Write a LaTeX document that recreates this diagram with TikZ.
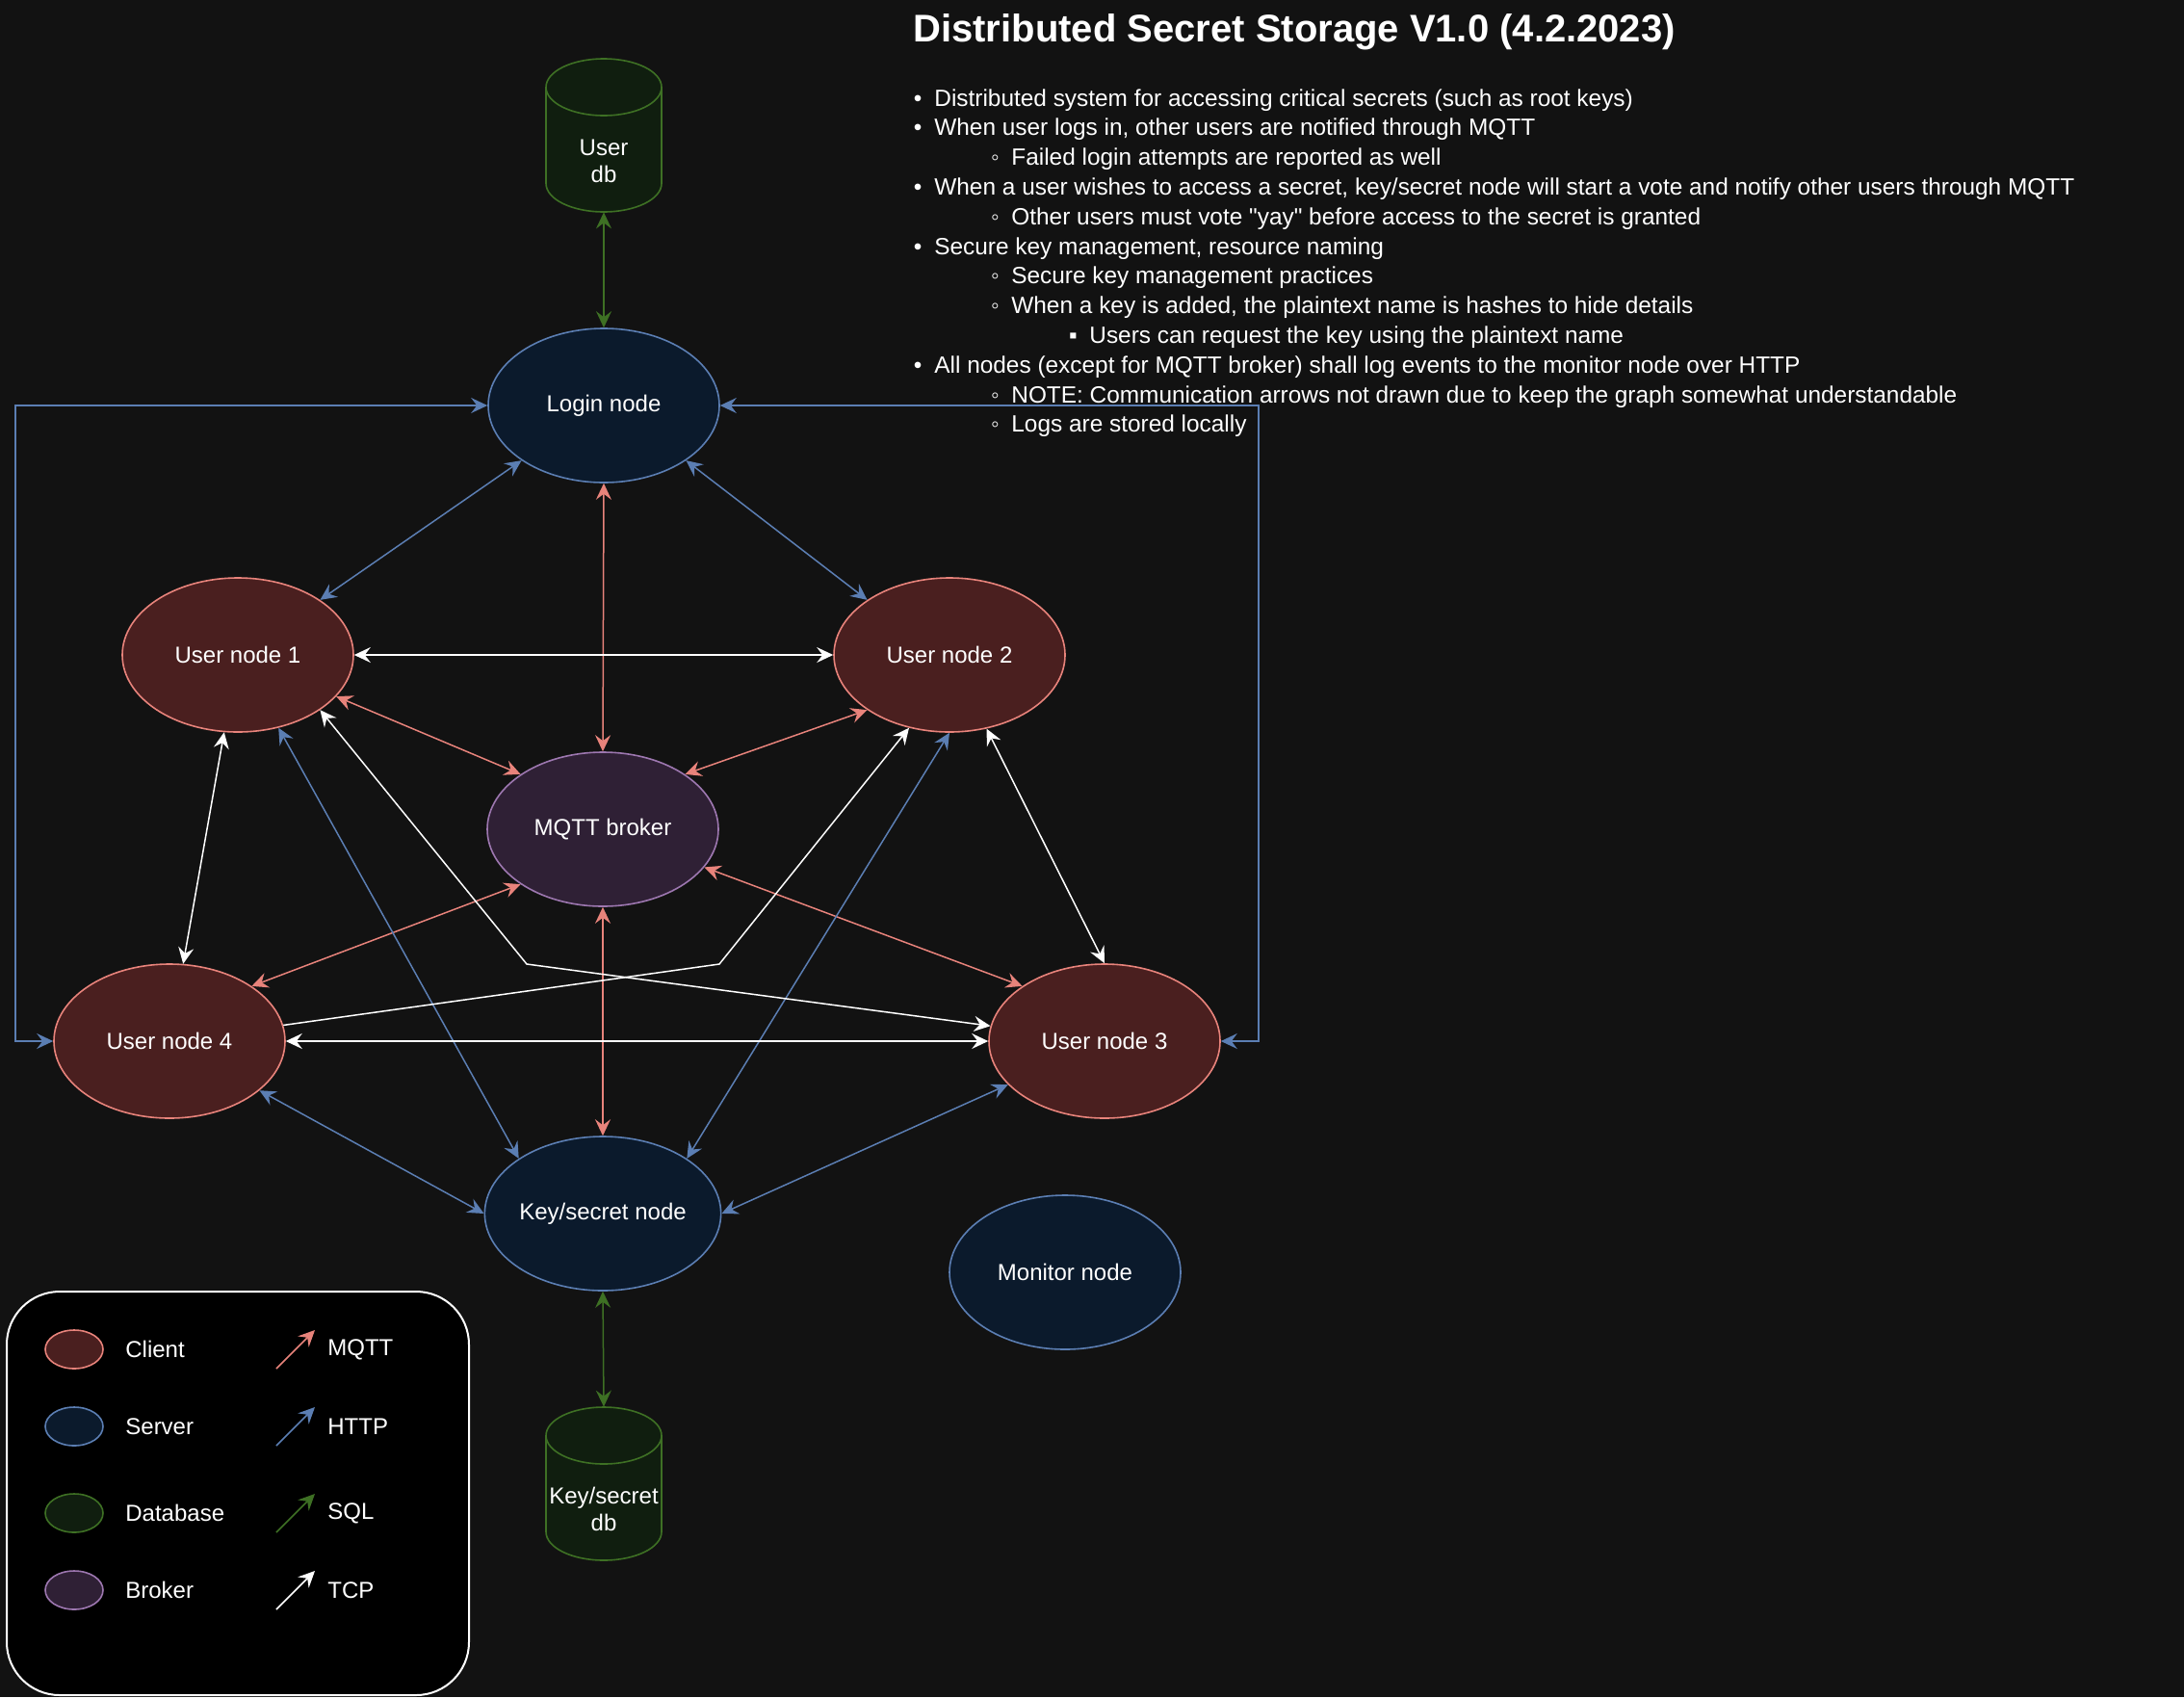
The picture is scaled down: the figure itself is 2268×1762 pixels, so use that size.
\documentclass[tikz,border=0pt]{standalone}
\usepackage{fontspec}
\setmainfont{Liberation Sans}
\usetikzlibrary{arrows.meta,shapes.geometric}

\definecolor{pagebg}{HTML}{121212}
\definecolor{clientfill}{HTML}{4A1F1F}
\definecolor{clientline}{HTML}{E8837B}
\definecolor{serverfill}{HTML}{0B1A2C}
\definecolor{serverline}{HTML}{5B7EB3}
\definecolor{brokerfill}{HTML}{2F2035}
\definecolor{brokerline}{HTML}{9D77B0}
\definecolor{dbfill}{HTML}{101E0F}
\definecolor{dbline}{HTML}{3E7024}

\newcommand\lvlone[1]{\rlap{\hspace*{6.4pt}\makebox[0pt]{•}}\hspace*{15pt}#1}
\newcommand\lvltwo[1]{\rlap{\hspace*{46.5pt}\makebox[0pt]{◦}}\hspace*{55pt}#1}
\newcommand\lvlthree[1]{\rlap{\hspace*{87pt}\makebox[0pt]{▪}}\hspace*{95.5pt}#1}

\begin{document}
\begin{tikzpicture}[x=0.5pt,y=0.5pt,
    >={Stealth[length=8.5pt,width=8pt,inset=3pt]},
    every node/.style={text=white,font=\fontsize{12}{14}\selectfont},
    client/.style={ellipse,draw=clientline,fill=clientfill,line width=0.8pt,
        minimum width=120pt,minimum height=80pt,inner sep=0pt},
    server/.style={client,draw=serverline,fill=serverfill},
    broker/.style={client,draw=brokerline,fill=brokerfill},
    database/.style={client,draw=dbline,fill=dbfill},
    mqttline/.style={<->,draw=clientline,line width=0.75pt},
    httpline/.style={<->,draw=serverline,line width=0.75pt},
    sqlline/.style={<->,draw=dbline,line width=0.75pt},
    tcpline/.style={<->,draw=white,line width=0.75pt},
    dbshape/.style={draw=dbline,fill=dbfill,line width=0.8pt},
    dbbox/.style={rectangle,minimum width=60pt,minimum height=79.5pt,inner sep=0pt},
    dbtext/.style={align=center,inner sep=0pt,font=\fontsize{12}{14}\selectfont},
    legendtext/.style={anchor=west,inner sep=0pt}]

    \path[use as bounding box,fill=pagebg] (0,0) rectangle (2268,-1762);

    % title and notes
    \node[anchor=base west,inner sep=0pt,font=\bfseries\fontsize{20}{24}\selectfont] (title) at (948,-43)
        {Distributed Secret Storage V1.0 (4.2.2023)};
    \node[anchor=north west,inner sep=0pt,align=left,font=\fontsize{12.2}{15.4}\selectfont] (notes) at (940,-92) {%
        \lvlone{Distributed system for accessing critical secrets (such as root keys)}\\
        \lvlone{When user logs in, other users are notified through MQTT}\\
        \lvltwo{Failed login attempts are reported as well}\\
        \lvlone{When a user wishes to access a secret, key/secret node will start a vote and notify other users through MQTT}\\
        \lvltwo{Other users must vote \textquotedbl yay\textquotedbl{} before access to the secret is granted}\\
        \lvlone{Secure key management, resource naming}\\
        \lvltwo{Secure key management practices}\\
        \lvltwo{When a key is added, the plaintext name is hashes to hide details}\\
        \lvlthree{Users can request the key using the plaintext name}\\
        \lvlone{All nodes (except for MQTT broker) shall log events to the monitor node over HTTP}\\
        \lvltwo{NOTE: Communication arrows not drawn due to keep the graph somewhat understandable}\\
        \lvltwo{Logs are stored locally}};

    % databases
    \draw[dbshape] (567,-90.5) -- (567,-190.5) arc[start angle=180,end angle=360,x radius=30pt,y radius=14.75pt]
        -- (687,-90.5) arc[start angle=0,end angle=180,x radius=30pt,y radius=14.75pt] -- cycle;
    \draw[dbline,line width=0.8pt] (567,-90.5) arc[start angle=180,end angle=360,x radius=30pt,y radius=14.75pt];
    \node[dbbox] (userdb) at (627,-140.5) {};
    \node[dbtext] (userdblabel) at (627,-167) {User\\db};

    \draw[dbshape] (567,-1490.5) -- (567,-1590.5) arc[start angle=180,end angle=360,x radius=30pt,y radius=14.75pt]
        -- (687,-1490.5) arc[start angle=0,end angle=180,x radius=30pt,y radius=14.75pt] -- cycle;
    \draw[dbline,line width=0.8pt] (567,-1490.5) arc[start angle=180,end angle=360,x radius=30pt,y radius=14.75pt];
    \node[dbbox] (keydb) at (627,-1540.5) {};
    \node[dbtext] (keydblabel) at (627,-1567) {Key/secret\\db};

    % nodes
    \node[server] (login) at (627,-421) {Login node};
    \node[client] (user1) at (247,-680) {User node 1};
    \node[client] (user2) at (986,-680) {User node 2};
    \node[broker] (broker) at (626,-861) {MQTT broker};
    \node[client] (user4) at (176,-1081) {User node 4};
    \node[client] (user3) at (1147,-1081) {User node 3};
    \node[server] (keynode) at (626,-1260) {Key/secret node};
    \node[server] (monitor) at (1106,-1321) {Monitor node};

    \coordinate (bendA) at (547,-1001);
    \coordinate (bendB) at (747,-1001);

    % SQL
    \draw[sqlline] (userdb.south) -- (login.north);
    \draw[sqlline] (keynode.south) -- (keydb.north);

    % MQTT
    \draw[mqttline] (login.south) -- (broker.north);
    \draw[mqttline] (broker.south) -- (keynode.north);
    \draw[mqttline] (user1) -- (broker.north west);
    \draw[mqttline] (user2.south west) -- (broker.north east);
    \draw[mqttline] (user4.north east) -- (broker.south west);
    \draw[mqttline] (broker) -- (user3.north west);

    % HTTP
    \draw[httpline] (login.south west) -- (user1.north east);
    \draw[httpline] (login.south east) -- (user2.north west);
    \draw[httpline] (login.west) -- ++(-490,0) |- (user4.west);
    \draw[httpline] (login.east) -- ++(559,0) |- (user3.east);
    \draw[httpline] (user1) -- (keynode.north west);
    \draw[httpline] (user2.south) -- (keynode.north east);
    \draw[httpline] (user4) -- (keynode.west);
    \draw[httpline] (user3) -- (keynode.east);

    % TCP
    \draw[tcpline] (user1) -- (user2);
    \draw[tcpline] (user4) -- (user3);
    \draw[tcpline] (user1) -- (user4);
    \draw[tcpline] (user2) -- (user3.north);
    \draw[tcpline] (user1.south east) -- (bendA) -- (user3);
    \draw[tcpline,->] (user4) -- (bendB) -- (user2.241);

    % legend
    \draw[white,line width=1pt,fill=black,rounded corners=27.5pt] (7,-1341) rectangle (487,-1760);
    \node[client,minimum width=30pt,minimum height=20pt] (lgclient) at (77,-1401) {};
    \node[server,minimum width=30pt,minimum height=20pt] (lgserver) at (77,-1481) {};
    \node[database,minimum width=30pt,minimum height=20pt] (lgdb) at (77,-1571) {};
    \node[broker,minimum width=30pt,minimum height=20pt] (lgbroker) at (77,-1651) {};
    \node[legendtext] (lgclientlabel) at (130,-1401) {Client};
    \node[legendtext] (lgserverlabel) at (130,-1481) {Server};
    \node[legendtext] (lgdblabel) at (130,-1571) {Database};
    \node[legendtext] (lgbrokerlabel) at (130,-1651) {Broker};

    \coordinate (lgmqtta) at (287,-1421); \coordinate (lgmqttb) at (327,-1381);
    \coordinate (lghttpa) at (287,-1501); \coordinate (lghttpb) at (327,-1461);
    \coordinate (lgsqla) at (287,-1591); \coordinate (lgsqlb) at (327,-1551);
    \coordinate (lgtcpa) at (287,-1671); \coordinate (lgtcpb) at (327,-1631);
    \draw[mqttline,->] (lgmqtta) -- (lgmqttb);
    \draw[httpline,->] (lghttpa) -- (lghttpb);
    \draw[sqlline,->] (lgsqla) -- (lgsqlb);
    \draw[tcpline,->] (lgtcpa) -- (lgtcpb);
    \node[legendtext] (lgmqttlabel) at (340,-1401) {MQTT};
    \node[legendtext] (lghttplabel) at (340,-1481) {HTTP};
    \node[legendtext] (lgsqllabel) at (340,-1571) {SQL};
    \node[legendtext] (lgtcplabel) at (340,-1651) {TCP};
\end{tikzpicture}
\end{document}
